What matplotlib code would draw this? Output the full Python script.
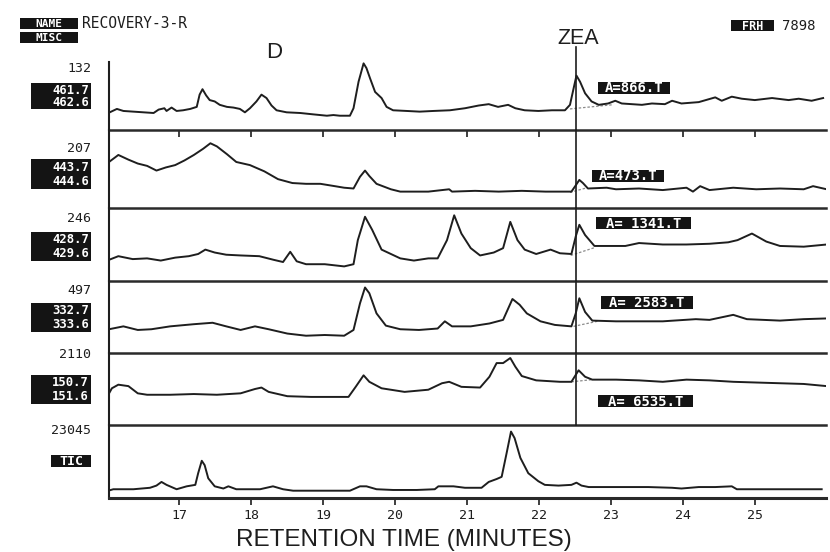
import matplotlib
matplotlib.use("Agg")
import matplotlib.pyplot as plt
from matplotlib.patches import Rectangle

# ---------------------------------------------------------------- data
# Retention time (min) and relative response (% of each trace's full scale)
t_m461 = [16.03, 16.13, 16.22, 16.36, 16.50, 16.64, 16.71, 16.79, 16.82, 16.89, 16.96, 17.05,
          17.15, 17.24, 17.28, 17.32, 17.37, 17.42, 17.49, 17.56, 17.66, 17.75, 17.84, 17.91,
          17.98, 18.07, 18.14, 18.21, 18.28, 18.35, 18.49, 18.68, 18.86, 19.05, 19.14, 19.23,
          19.37, 19.42, 19.49, 19.56, 19.60, 19.65, 19.72, 19.81, 19.88, 19.97, 20.16, 20.34,
          20.53, 20.76, 20.97, 21.16, 21.30, 21.43, 21.57, 21.67, 21.80, 21.99, 22.18, 22.36,
          22.43, 22.48, 22.52, 22.57, 22.64, 22.73, 22.83, 22.96, 23.06, 23.15, 23.29, 23.43,
          23.57, 23.75, 23.85, 23.98, 24.22, 24.45, 24.54, 24.68, 24.82, 25.00, 25.24, 25.47,
          25.61, 25.79, 25.95]
i_m461 = [26, 31, 28, 27, 26, 25, 30, 32, 28, 33, 28, 29,
          31, 34, 52, 60, 51, 44, 42, 37, 34, 33, 31, 26,
          32, 42, 52, 47, 36, 29, 26, 25, 23, 21, 22, 21,
          21, 32, 71, 98, 91, 76, 56, 47, 34, 29, 28, 27,
          28, 29, 32, 36, 38, 34, 37, 32, 29, 28, 29, 29,
          37, 61, 80, 71, 54, 42, 37, 39, 43, 39, 38, 37,
          39, 38, 43, 39, 41, 48, 43, 49, 46, 44, 47, 44,
          46, 43, 47]

t_m443 = [16.02, 16.15, 16.29, 16.42, 16.55, 16.68, 16.81, 16.94, 17.07, 17.20, 17.33, 17.43,
          17.52, 17.66, 17.79, 17.98, 18.18, 18.37, 18.57, 18.76, 18.96, 19.16, 19.29, 19.42,
          19.51, 19.58, 19.64, 19.74, 19.94, 20.07, 20.46, 20.75, 20.79, 21.11, 21.44, 21.76,
          22.09, 22.45, 22.51, 22.56, 22.61, 22.68, 22.94, 23.07, 23.39, 23.72, 24.05, 24.14,
          24.24, 24.37, 24.70, 25.02, 25.35, 25.68, 25.81, 26.00]
i_m443 = [59, 68, 62, 57, 54, 48, 52, 55, 61, 68, 76, 83,
          79, 69, 59, 55, 47, 37, 32, 31, 31, 28, 26, 25,
          40, 48, 41, 31, 24, 21, 21, 24, 21, 22, 21, 22,
          21, 21, 29, 36, 32, 25, 26, 24, 25, 23, 26, 21,
          28, 23, 26, 24, 25, 24, 28, 24]

t_m428 = [16.02, 16.15, 16.35, 16.55, 16.74, 16.94, 17.13, 17.26, 17.36, 17.49, 17.65, 17.85,
          18.11, 18.31, 18.44, 18.54, 18.63, 18.76, 19.02, 19.29, 19.42, 19.48, 19.58, 19.68,
          19.81, 19.94, 20.07, 20.26, 20.46, 20.59, 20.72, 20.82, 20.92, 21.05, 21.18, 21.37,
          21.50, 21.60, 21.70, 21.80, 21.96, 22.16, 22.29, 22.45, 22.51, 22.56, 22.64, 22.77,
          22.94, 23.20, 23.39, 23.72, 24.05, 24.37, 24.63, 24.76, 24.96, 25.16, 25.35, 25.68,
          26.00]
i_m428 = [29, 34, 30, 31, 28, 32, 34, 37, 43, 39, 36, 35,
          34, 29, 26, 40, 27, 23, 23, 20, 23, 56, 88, 70,
          43, 37, 31, 28, 31, 31, 56, 90, 65, 45, 35, 39,
          45, 81, 56, 43, 37, 43, 38, 37, 61, 77, 63, 48,
          48, 48, 52, 50, 50, 51, 53, 56, 65, 54, 48, 47,
          50]

t_m332 = [16.02, 16.22, 16.42, 16.61, 16.87, 17.20, 17.46, 17.65, 17.85, 18.05, 18.24, 18.50,
          18.76, 19.02, 19.29, 19.42, 19.51, 19.58, 19.64, 19.74, 19.87, 20.07, 20.33, 20.59,
          20.69, 20.79, 21.05, 21.31, 21.50, 21.63, 21.73, 21.83, 22.02, 22.22, 22.45, 22.51,
          22.56, 22.64, 22.74, 23.07, 23.39, 23.72, 24.18, 24.37, 24.70, 24.89, 25.35, 25.68,
          26.00]
i_m332 = [33, 37, 32, 33, 37, 40, 42, 37, 32, 37, 33, 27,
          24, 25, 24, 32, 69, 91, 83, 55, 38, 33, 32, 34,
          44, 37, 37, 41, 46, 75, 67, 55, 44, 39, 37, 55,
          76, 57, 45, 44, 44, 44, 47, 46, 53, 47, 45, 47,
          48]

t_m150 = [16.01, 16.06, 16.15, 16.29, 16.42, 16.55, 16.87, 17.20, 17.52, 17.85, 18.05, 18.14,
          18.24, 18.50, 18.83, 19.16, 19.35, 19.45, 19.56, 19.64, 19.81, 20.13, 20.46, 20.65,
          20.75, 20.92, 21.18, 21.31, 21.41, 21.50, 21.60, 21.67, 21.76, 21.96, 22.29, 22.45,
          22.55, 22.64, 22.74, 23.07, 23.39, 23.72, 24.05, 24.37, 24.70, 25.02, 25.35, 25.68,
          26.00]
i_m150 = [42, 51, 56, 54, 44, 42, 42, 43, 42, 44, 50, 52,
          46, 40, 39, 39, 39, 53, 69, 60, 51, 46, 49, 58,
          60, 53, 52, 67, 86, 86, 93, 81, 68, 62, 60, 60,
          76, 67, 63, 63, 62, 60, 63, 62, 60, 59, 58, 57,
          54]

t_tic = [16.01, 16.08, 16.36, 16.59, 16.68, 16.75, 16.82, 16.96, 17.10, 17.22, 17.26, 17.31,
         17.35, 17.40, 17.49, 17.61, 17.68, 17.79, 18.12, 18.30, 18.44, 18.58, 18.86, 19.14,
         19.37, 19.51, 19.60, 19.74, 19.97, 20.30, 20.55, 20.60, 20.81, 20.97, 21.20, 21.30,
         21.41, 21.48, 21.55, 21.61, 21.66, 21.74, 21.85, 21.99, 22.08, 22.27, 22.45, 22.52,
         22.59, 22.69, 23.06, 23.52, 23.85, 23.98, 24.22, 24.45, 24.68, 24.75, 25.14, 25.61,
         25.93]
i_tic = [10, 12, 12, 14, 17, 22, 18, 12, 16, 18, 34, 51,
         45, 27, 16, 13, 16, 12, 12, 16, 12, 10, 10, 10,
         10, 16, 16, 12, 11, 11, 12, 16, 16, 14, 14, 22,
         26, 29, 62, 91, 82, 55, 34, 23, 18, 17, 18, 21,
         17, 15, 15, 15, 14, 13, 15, 15, 16, 12, 12, 12,
         12]

trace_times = [t_m461, t_m443, t_m428, t_m332, t_m150, t_tic]
trace_values = [i_m461, i_m443, i_m428, i_m332, i_m150, i_tic]

full_scale = ["132", "207", "246", "497", "2110", "23045"]
mass_lo = ["461.7", "443.7", "428.7", "332.7", "150.7"]
mass_hi = ["462.6", "444.6", "429.6", "333.6", "151.6"]
zea_area = ["866", "473", " 1341", " 2583", " 6535"]

# integration baselines drawn under the ZEA peak (start/end time, start/end response)
zea_base_t0 = [22.43, 22.43, 22.44, 22.48, 22.45]
zea_base_t1 = [23.01, 22.67, 22.78, 22.81, 22.74]
zea_base_v0 = [31, 20, 35, 37, 60]
zea_base_v1 = [37, 26, 46, 44, 63]

zea_time = 22.51
time_ticks = [17, 18, 19, 20, 21, 22, 23, 24, 25]

# ---------------------------------------------------------------- layout
W, H = 830, 552
fig = plt.figure(figsize=(W / 100, H / 100), dpi=100)
fig.patch.set_facecolor("white")

MONO = "DejaVu Sans Mono"
SANS = "Liberation Sans"
INK = "#1e1e1e"


def fx(x):
    return x / W


def fy(y):
    return 1 - y / H


def tag(x0, y0, x1, y1, text, size=9.5):
    fig.patches.append(Rectangle((fx(x0), fy(y1)), fx(x1) - fx(x0), (y1 - y0) / H,
                                 transform=fig.transFigure, facecolor="#141414",
                                 edgecolor="none", zorder=5))
    fig.text(fx((x0 + x1) / 2), fy((y0 + y1) / 2 + 0.5), text, color="white", family=MONO,
             weight="bold", size=size, ha="center", va="center", zorder=6)


panel_px = [(62, 130), (130, 208), (208, 281), (281, 353), (353, 425), (425, 498)]
x_left, x_right = 109, 826
xlim = (16.02, 25.99)

axes = []
for k, (top, bot) in enumerate(panel_px):
    ax = fig.add_axes([fx(x_left), fy(bot), fx(x_right) - fx(x_left), (bot - top) / H])
    ax.set_xlim(*xlim)
    ax.set_ylim(0, 100)
    ax.set_facecolor("none")
    ax.plot(trace_times[k], trace_values[k], color=INK, lw=1.4, zorder=3)
    for s in ("top", "right"):
        ax.spines[s].set_visible(False)
    ax.spines["left"].set_linewidth(1.5)
    ax.spines["left"].set_color(INK)
    ax.spines["bottom"].set_linewidth(2.2 if k == 5 else 1.8)
    ax.spines["bottom"].set_color("#2a2a2a")
    ax.set_yticks([])
    ax.set_xticks(time_ticks)
    if k == 0:
        ax.tick_params(axis="x", direction="out", length=5, width=1.2, color=INK,
                       labelbottom=False)
    elif k == 5:
        ax.tick_params(axis="x", direction="out", length=5, width=1.2, color=INK,
                       pad=3, labelsize=9.5)
        for lab in ax.get_xticklabels():
            lab.set_family(MONO)
            lab.set_color(INK)
    else:
        ax.tick_params(axis="x", length=0, labelbottom=False)
    axes.append(ax)

# ZEA marker line and integration baselines
for k in range(5):
    ax = axes[k]
    top, bot = panel_px[k]
    ymax = 1 + (top - 47) / (bot - top) if k == 0 else 1
    ax.axvline(zea_time, ymin=0, ymax=ymax, color=INK, lw=1.2, clip_on=False, zorder=4)
    ax.plot([zea_base_t0[k], zea_base_t1[k]], [zea_base_v0[k], zea_base_v1[k]],
            color="#8a8a8a", lw=0.9, ls=(0, (2, 1.5)), zorder=2)

# area tags
area_px = [(598, 82, 670, 94), (592, 170, 664, 182), (596, 217, 691, 229),
           (601, 296, 693, 309), (598, 395, 693, 407)]
for k, (x0, y0, x1, y1) in enumerate(area_px):
    tag(x0, y0, x1, y1, "A=" + zea_area[k] + ".T", size=10)

# left labels: full scale and mass window
scale_y = [69, 148, 219, 290, 355, 431]
box_y = [(83, 109), (159, 189), (232, 261), (303, 332), (375, 404)]
for k in range(6):
    fig.text(fx(91), fy(scale_y[k]), full_scale[k], family=MONO, size=9.5, color=INK,
             ha="right", va="center")
for k, (y0, y1) in enumerate(box_y):
    fig.patches.append(Rectangle((fx(31), fy(y1)), fx(91) - fx(31), (y1 - y0) / H,
                                 transform=fig.transFigure, facecolor="#141414",
                                 edgecolor="none", zorder=5))
    fig.text(fx(89), fy(y0 + (y1 - y0) * 0.27), mass_lo[k], color="white", family=MONO,
             weight="bold", size=8.8, ha="right", va="center", zorder=6)
    fig.text(fx(89), fy(y0 + (y1 - y0) * 0.75), mass_hi[k], color="white", family=MONO,
             weight="bold", size=8.8, ha="right", va="center", zorder=6)
tag(51, 455, 91, 467, "TIC", size=9.5)

# header
tag(20, 18, 78, 29, "NAME", size=8)
tag(20, 32, 78, 43, "MISC", size=8)
fig.text(fx(82), fy(23.5), "RECOVERY-3-R", family=MONO, size=10.5, color=INK,
         ha="left", va="center")
tag(731, 20, 774, 31, "FRH", size=8.5)
fig.text(fx(782), fy(25.5), "7898", family=MONO, size=10, color=INK, ha="left", va="center")

fig.text(fx(274), fy(52), "D", family=SANS, size=16, color=INK, ha="center", va="center")
fig.text(fx(578), fy(38), "ZEA", family=SANS, size=15.5, color=INK, ha="center", va="center")

fig.text(fx(404), fy(540), "RETENTION TIME (MINUTES)", family=SANS, size=17.5, color=INK,
         ha="center", va="center")

fig.savefig("out.png", dpi=100, facecolor="white")
